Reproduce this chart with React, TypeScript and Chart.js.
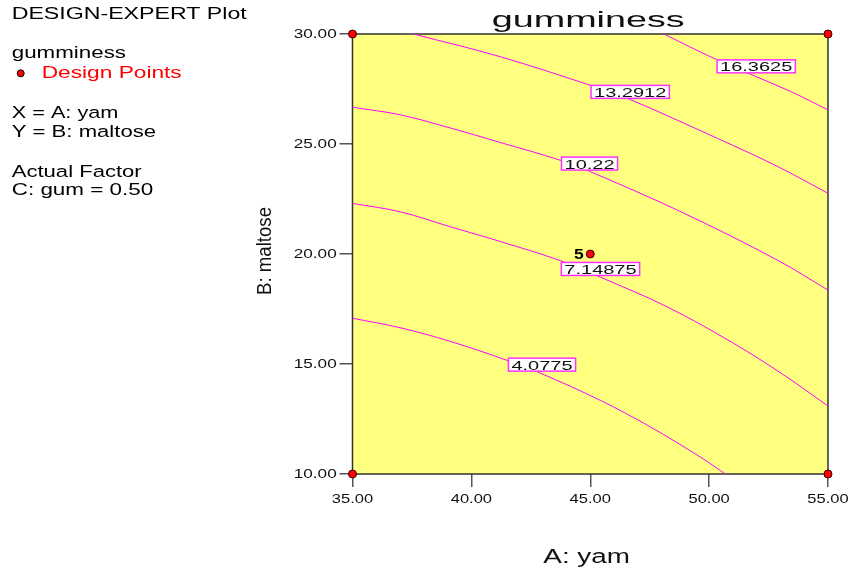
import { useEffect, useRef } from 'react';
import { Chart, registerables } from 'chart.js';

Chart.register(...registerables);

const FONT = '"Liberation Sans", Arial, Helvetica, sans-serif';

// ---- data ----
const xTicks = [35, 40, 45, 50, 55];
const yTicks = [10, 15, 20, 25, 30];
const xTitle = 'A: yam';
const yTitle = 'B: maltose';
const chartTitle = 'gumminess';

const contourLevels = ['4.0775', '7.14875', '10.22', '13.2912', '16.3625'];

const contour4_0775 = [
  { x: 35, y: 17.08 }, { x: 37.0, y: 16.65 }, { x: 39.11, y: 16.03 }, { x: 41.49, y: 15.17 },
  { x: 42.89, y: 14.59 }, { x: 45.42, y: 13.35 }, { x: 47.53, y: 12.14 }, { x: 49.63, y: 10.77 },
  { x: 50.68, y: 10 },
];
const contour7_14875 = [
  { x: 35, y: 22.3 }, { x: 37.0, y: 21.92 }, { x: 39.11, y: 21.24 }, { x: 41.21, y: 20.57 },
  { x: 43.74, y: 19.7 }, { x: 45.42, y: 18.95 }, { x: 48.23, y: 17.6 }, { x: 51.03, y: 15.94 },
  { x: 53.14, y: 14.5 }, { x: 55, y: 13.09 },
];
const contour10_22 = [
  { x: 35, y: 26.67 }, { x: 37.0, y: 26.33 }, { x: 39.11, y: 25.73 }, { x: 41.21, y: 25.07 },
  { x: 43.77, y: 24.25 }, { x: 45.42, y: 23.55 }, { x: 48.93, y: 21.86 }, { x: 52.86, y: 19.73 },
  { x: 55, y: 18.36 },
];
const contour13_2912 = [
  { x: 37.56, y: 30 }, { x: 41.21, y: 28.97 }, { x: 45.0, y: 27.67 }, { x: 46.55, y: 27.08 },
  { x: 50.34, y: 25.26 }, { x: 52.86, y: 23.99 }, { x: 55, y: 22.76 },
];
const contour16_3625 = [
  { x: 48.09, y: 30 }, { x: 50.29, y: 28.85 }, { x: 53.42, y: 27.39 }, { x: 55, y: 26.55 },
];
const contourLines = [contour4_0775, contour7_14875, contour10_22, contour13_2912, contour16_3625];

// where each contour's value label sits (data units)
const labelAnchors = [
  { x: 42.97, y: 14.97 }, { x: 45.43, y: 19.32 }, { x: 44.97, y: 24.11 },
  { x: 46.68, y: 27.37 }, { x: 51.98, y: 28.53 },
];

const designPoints = [
  { x: 35, y: 10 }, { x: 35, y: 30 }, { x: 55, y: 10 }, { x: 55, y: 30 }, { x: 45, y: 20 },
];
const centerReplicates = '5';

const sideText = {
  heading: 'DESIGN-EXPERT Plot',
  response: 'gumminess',
  legend: 'Design Points',
  xFactor: 'X = A: yam',
  yFactor: 'Y = B: maltose',
  actual: 'Actual Factor',
  actualValue: 'C: gum = 0.50',
};

// ---- helpers ----
function drawScaled(ctx: CanvasRenderingContext2D, text: string, x: number, y: number, font: string,
  opts: { width?: number; sx?: number; align?: 'left' | 'center' | 'right'; baseline?: CanvasTextBaseline; color?: string }) {
  ctx.save();
  ctx.font = font;
  const w = ctx.measureText(text).width;
  const s = opts.width ? opts.width / w : (opts.sx ?? 1);
  ctx.translate(x, y);
  ctx.scale(s, 1);
  ctx.textAlign = 'left';
  ctx.textBaseline = opts.baseline ?? 'alphabetic';
  ctx.fillStyle = opts.color ?? '#000';
  const off = opts.align === 'center' ? -w / 2 : opts.align === 'right' ? -w : 0;
  ctx.fillText(text, off, 0);
  ctx.restore();
}

const decorPlugin = {
  id: 'decor',
  beforeDatasetsDraw(chart: any) {
    const { ctx, chartArea: a } = chart;
    ctx.save();
    ctx.fillStyle = '#ffff80';
    ctx.fillRect(a.left, a.top, a.right - a.left, a.bottom - a.top);
    ctx.strokeStyle = '#333333';
    ctx.lineWidth = 1.5;
    ctx.strokeRect(a.left, a.top, a.right - a.left, a.bottom - a.top);
    ctx.restore();
  },
  afterDatasetsDraw(chart: any) {
    const { ctx, scales } = chart;
    const xs = scales.x;
    const ys = scales.y;
    // contour labels
    const lf = `12.5px ${FONT}`;
    contourLevels.forEach((lab, i) => {
      const p = labelAnchors[i];
      const cx = xs.getPixelForValue(p.x);
      const cy = ys.getPixelForValue(p.y);
      ctx.save();
      ctx.font = lf;
      const tw = ctx.measureText(lab).width * 1.6;
      const bw = tw + 6;
      const bh = 13;
      ctx.fillStyle = '#ffffff';
      ctx.fillRect(cx - bw / 2, cy - bh / 2, bw, bh);
      ctx.strokeStyle = '#ff33ff';
      ctx.lineWidth = 1.5;
      ctx.strokeRect(cx - bw / 2, cy - bh / 2, bw, bh);
      ctx.restore();
      drawScaled(ctx, lab, cx, cy + 5, lf, { sx: 1.6, align: 'center', color: '#111' });
    });
    // replicate count next to centre point
    const c = designPoints[4];
    drawScaled(ctx, centerReplicates, xs.getPixelForValue(c.x) - 6.5, ys.getPixelForValue(c.y) + 5,
      `bold 14px ${FONT}`, { sx: 1.25, align: 'right' });
  },
  afterDraw(chart: any) {
    const { ctx, chartArea: a, scales } = chart;
    const xs = scales.x;
    const ys = scales.y;
    const tf = `13px ${FONT}`;
    xTicks.forEach((v) => {
      drawScaled(ctx, v.toFixed(2), xs.getPixelForValue(v), a.bottom + 29.3, tf, { sx: 1.27, align: 'center', color: '#111' });
    });
    yTicks.forEach((v) => {
      drawScaled(ctx, v.toFixed(2), a.left - 15.8, ys.getPixelForValue(v) + 4.3, tf, { sx: 1.32, align: 'right', color: '#111' });
    });
    // title
    drawScaled(ctx, chartTitle, 491.7, 26.7, `22.5px ${FONT}`, { width: 193, color: '#111' });
    // axis titles
    drawScaled(ctx, xTitle, 543.3, 563.3, `19.5px ${FONT}`, { width: 86.7, color: '#111' });
    ctx.save();
    ctx.translate(270.7, 295);
    ctx.rotate(-Math.PI / 2);
    ctx.scale(1, 1.37);
    ctx.font = `15px ${FONT}`;
    const yw = ctx.measureText(yTitle).width;
    ctx.scale(88 / yw, 1);
    ctx.fillStyle = '#111';
    ctx.textBaseline = 'alphabetic';
    ctx.fillText(yTitle, 0, 0);
    ctx.restore();
    // side annotation block
    const sf = `16.8px ${FONT}`;
    drawScaled(ctx, sideText.heading, 11.7, 19.3, sf, { width: 235 });
    drawScaled(ctx, sideText.response, 11.7, 58.3, sf, { width: 114.3 });
    ctx.save();
    ctx.beginPath();
    ctx.arc(20.7, 73.3, 3.5, 0, Math.PI * 2);
    ctx.fillStyle = '#ff0000';
    ctx.fill();
    ctx.lineWidth = 1;
    ctx.strokeStyle = '#000';
    ctx.stroke();
    ctx.restore();
    drawScaled(ctx, sideText.legend, 41.7, 78.3, sf, { width: 140, color: '#ff0000' });
    drawScaled(ctx, sideText.xFactor, 11.7, 118.3, sf, { width: 106.7 });
    drawScaled(ctx, sideText.yFactor, 11.7, 137.3, sf, { width: 144.3 });
    drawScaled(ctx, sideText.actual, 11.7, 176.7, sf, { width: 130 });
    drawScaled(ctx, sideText.actualValue, 11.7, 195, sf, { width: 141.6 });
  },
};

export default function App() {
  const ref = useRef<HTMLCanvasElement | null>(null);
  useEffect(() => {
    if (!ref.current) return;
    const datasets: any[] = contourLines.map((pts, i) => ({
      type: 'line',
      label: contourLevels[i],
      data: pts,
      borderColor: '#ff00ff',
      borderWidth: 1,
      pointRadius: 0,
      fill: false,
      tension: 0.35,
      order: 2,
    }));
    datasets.push({
      type: 'scatter',
      label: 'Design Points',
      data: designPoints,
      backgroundColor: '#ff0000',
      borderColor: '#3a0000',
      borderWidth: 1,
      pointRadius: 4,
      clip: false,
      order: 1,
    });
    const chart = new Chart(ref.current, {
      type: 'line',
      data: { datasets },
      options: {
        animation: false,
        responsive: false,
        layout: { padding: { top: 34, right: 25, left: 0, bottom: 0 } },
        plugins: { legend: { display: false }, tooltip: { enabled: false }, title: { display: false } },
        scales: {
          x: {
            type: 'linear', position: 'bottom', min: 35, max: 55,
            ticks: { display: false, stepSize: 5 },
            grid: { display: true, drawOnChartArea: false, drawTicks: true, tickLength: 13, color: '#555', lineWidth: 1.5 },
            border: { display: false },
            afterFit: (s: any) => { s.height = 98; },
          },
          y: {
            type: 'linear', position: 'left', min: 10, max: 30,
            ticks: { display: false, stepSize: 5 },
            grid: { display: true, drawOnChartArea: false, drawTicks: true, tickLength: 13, color: '#555', lineWidth: 1.5 },
            border: { display: false },
            afterFit: (s: any) => { s.width = 352.5; },
          },
        },
      },
      plugins: [decorPlugin],
    });
    return () => chart.destroy();
  }, []);
  return (
    <div style={{ position: 'fixed', left: 0, top: 0, width: 853, height: 572, background: '#fff' }}>
      <canvas ref={ref} width={853} height={572} style={{ width: 853, height: 572, display: 'block' }} />
    </div>
  );
}
